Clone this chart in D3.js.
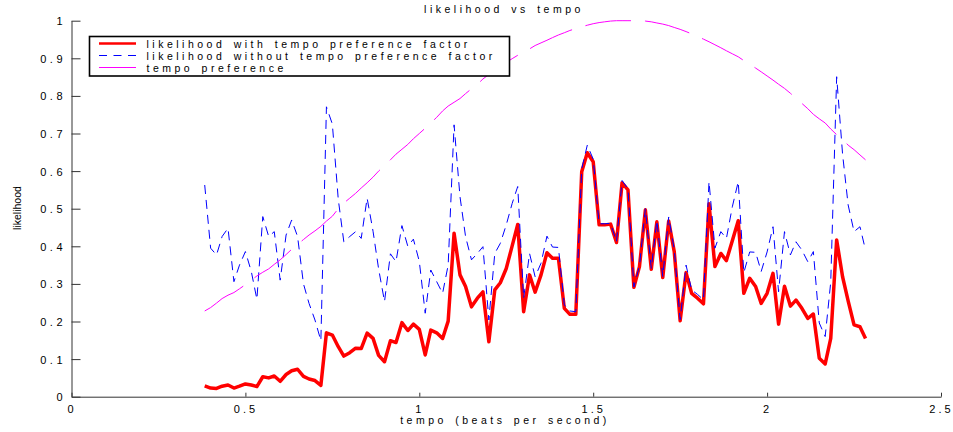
<!DOCTYPE html>
<html>
<head>
<meta charset="utf-8">
<script src="https://cdn.jsdelivr.net/npm/d3@7/dist/d3.min.js"></script>
<style>
  html, body { margin: 0; padding: 0; background: #fff; }
  svg { display: block; }
  text { font-family: "Liberation Sans", Arial, sans-serif; fill: #000; }
</style>
</head>
<body>
<svg id="chart" width="953" height="432"></svg>
<script>
// Tempo grid (beats per second), one step per BPM from 23 to 137 BPM
const tempo = [
  0.383, 0.400, 0.417, 0.433, 0.450, 0.467, 0.483, 0.500, 0.517, 0.533,
  0.550, 0.567, 0.583, 0.600, 0.617, 0.633, 0.650, 0.667, 0.683, 0.700,
  0.717, 0.733, 0.750, 0.767, 0.783, 0.800, 0.817, 0.833, 0.850, 0.867,
  0.883, 0.900, 0.917, 0.933, 0.950, 0.967, 0.983, 1.000, 1.017, 1.033,
  1.050, 1.067, 1.083, 1.100, 1.117, 1.133, 1.150, 1.167, 1.183, 1.200,
  1.217, 1.233, 1.250, 1.267, 1.283, 1.300, 1.317, 1.333, 1.350, 1.367,
  1.383, 1.400, 1.417, 1.433, 1.450, 1.467, 1.483, 1.500, 1.517, 1.533,
  1.550, 1.567, 1.583, 1.600, 1.617, 1.633, 1.650, 1.667, 1.683, 1.700,
  1.717, 1.733, 1.750, 1.767, 1.783, 1.800, 1.817, 1.833, 1.850, 1.867,
  1.883, 1.900, 1.917, 1.933, 1.950, 1.967, 1.983, 2.000, 2.017, 2.033,
  2.050, 2.067, 2.083, 2.100, 2.117, 2.133, 2.150, 2.167, 2.183, 2.200,
  2.217, 2.233, 2.250, 2.267, 2.283
];

// Likelihood including the tempo preference factor
const likelihoodWithPref = [
  0.029, 0.023, 0.022, 0.028, 0.031, 0.023, 0.028, 0.034, 0.031, 0.027,
  0.053, 0.050, 0.055, 0.041, 0.059, 0.069, 0.073, 0.054, 0.047, 0.043,
  0.030, 0.170, 0.164, 0.133, 0.108, 0.117, 0.129, 0.128, 0.169, 0.155,
  0.110, 0.093, 0.149, 0.144, 0.197, 0.176, 0.193, 0.179, 0.111, 0.177,
  0.170, 0.155, 0.201, 0.435, 0.324, 0.293, 0.239, 0.262, 0.279, 0.146,
  0.284, 0.303, 0.341, 0.401, 0.458, 0.226, 0.324, 0.278, 0.324, 0.383,
  0.368, 0.368, 0.235, 0.219, 0.219, 0.598, 0.649, 0.625, 0.457, 0.457,
  0.459, 0.410, 0.569, 0.550, 0.291, 0.346, 0.497, 0.339, 0.465, 0.317,
  0.467, 0.386, 0.202, 0.330, 0.275, 0.262, 0.247, 0.513, 0.346, 0.381,
  0.362, 0.415, 0.468, 0.275, 0.315, 0.293, 0.248, 0.275, 0.328, 0.193,
  0.294, 0.241, 0.257, 0.235, 0.208, 0.220, 0.102, 0.087, 0.155, 0.417,
  0.319, 0.255, 0.191, 0.186, 0.155
];

// Likelihood without the tempo preference factor
const likelihoodNoPref = [
  0.563, 0.395, 0.377, 0.426, 0.448, 0.306, 0.350, 0.386, 0.333, 0.259,
  0.479, 0.426, 0.439, 0.310, 0.430, 0.470, 0.426, 0.300, 0.248, 0.204,
  0.149, 0.771, 0.725, 0.525, 0.412, 0.426, 0.439, 0.421, 0.528, 0.440,
  0.340, 0.253, 0.380, 0.359, 0.455, 0.400, 0.419, 0.360, 0.222, 0.337,
  0.306, 0.275, 0.350, 0.723, 0.532, 0.426, 0.364, 0.381, 0.399, 0.204,
  0.381, 0.408, 0.457, 0.514, 0.559, 0.262, 0.381, 0.319, 0.355, 0.427,
  0.398, 0.397, 0.244, 0.228, 0.226, 0.606, 0.669, 0.632, 0.460, 0.460,
  0.461, 0.412, 0.575, 0.553, 0.292, 0.348, 0.500, 0.341, 0.469, 0.320,
  0.478, 0.392, 0.205, 0.350, 0.284, 0.272, 0.258, 0.572, 0.395, 0.439,
  0.421, 0.505, 0.572, 0.330, 0.385, 0.384, 0.333, 0.385, 0.452, 0.279,
  0.439, 0.377, 0.412, 0.390, 0.359, 0.386, 0.196, 0.160, 0.305, 0.851,
  0.645, 0.510, 0.439, 0.452, 0.390
];

// Tempo preference weight
const tempoPreference = [
  0.228, 0.237, 0.249, 0.261, 0.270, 0.277, 0.287, 0.298, 0.310, 0.321,
  0.331, 0.340, 0.352, 0.364, 0.378, 0.392, 0.405, 0.418, 0.430, 0.441,
  0.453, 0.467, 0.480, 0.500, 0.515, 0.528, 0.541, 0.555, 0.569, 0.584,
  0.600, 0.614, 0.630, 0.645, 0.658, 0.671, 0.686, 0.700, 0.714, 0.728,
  0.743, 0.760, 0.773, 0.783, 0.793, 0.806, 0.819, 0.831, 0.845, 0.857,
  0.868, 0.878, 0.889, 0.899, 0.908, 0.917, 0.925, 0.934, 0.941, 0.948,
  0.955, 0.962, 0.968, 0.974, 0.979, 0.984, 0.988, 0.992, 0.995, 0.997,
  0.999, 1.000, 1.000, 1.000, 1.000, 1.000, 0.999, 0.997, 0.994, 0.991,
  0.987, 0.982, 0.977, 0.971, 0.965, 0.958, 0.951, 0.944, 0.936, 0.928,
  0.920, 0.912, 0.904, 0.894, 0.884, 0.874, 0.864, 0.853, 0.842, 0.831,
  0.820, 0.807, 0.794, 0.780, 0.766, 0.751, 0.739, 0.728, 0.712, 0.697,
  0.685, 0.669, 0.657, 0.643, 0.630
];

const xTicks = [0, 0.5, 1, 1.5, 2, 2.5];
const xTickLabels = ["0", "0.5", "1", "1.5", "2", "2.5"];
const yTicks = [0, 0.1, 0.2, 0.3, 0.4, 0.5, 0.6, 0.7, 0.8, 0.9, 1];
const yTickLabels = ["0", "0.1", "0.2", "0.3", "0.4", "0.5", "0.6", "0.7", "0.8", "0.9", "1"];

const seriesNames = [
  "likelihood with tempo preference factor",
  "likelihood without tempo preference factor",
  "tempo preference"
];

const svg = d3.select("#chart");
const LS = 3.5;     // letter spacing of the spaced-out labels
const TICK_LS = 3;  // letter spacing of the x tick labels

const x = d3.scaleLinear().domain([0, 2.5]).range([71.5, 941]);
const y = d3.scaleLinear().domain([0, 1]).range([396.7, 20.7]);

// Axes: left and bottom only, ticks pointing into the plot
const yAxis = d3.axisLeft(y)
  .tickValues(yTicks)
  .tickFormat((d, i) => yTickLabels[i])
  .tickSizeInner(-9)
  .tickSizeOuter(0)
  .tickPadding(9 - LS);

const xAxis = d3.axisBottom(x)
  .tickValues(xTicks)
  .tickFormat((d, i) => xTickLabels[i])
  .tickSizeInner(-4)
  .tickSizeOuter(0)
  .tickPadding(9);

const gy = svg.append("g").attr("transform", `translate(${x(0)},0)`).call(yAxis);
const gx = svg.append("g").attr("transform", `translate(0,${y(0)})`).call(xAxis);

[gx, gy].forEach(g => {
  g.selectAll(".domain").attr("stroke", "#333").attr("stroke-width", 1);
  g.selectAll(".tick line").attr("stroke", "#333").attr("stroke-width", 1);
  g.selectAll(".tick text")
    .attr("font-family", "Liberation Sans, Arial, sans-serif")
    .attr("font-size", 11)
    .attr("fill", "#000");
});
gy.selectAll(".tick text").attr("dy", "0.36em").style("letter-spacing", LS + "px");
gx.selectAll(".tick text").attr("dy", "0.71em").style("letter-spacing", TICK_LS + "px");

// Data lines
const seriesValues = [likelihoodWithPref, likelihoodNoPref, tempoPreference];
const seriesStyles = [
  { color: "#ff0000", width: 3.5, dash: null },
  { color: "#0000ff", width: 1, dash: "9,6" },
  { color: "#ff00ff", width: 1, dash: "46,14" }
];

const line = d3.line()
  .x(d => x(d[0]))
  .y(d => y(d[1]));

const plot = svg.append("g");
seriesValues.forEach((vals, k) => {
  const pts = tempo.map((t, i) => [t, vals[i]]);
  const st = seriesStyles[k];
  plot.append("path")
    .datum(pts)
    .attr("fill", "none")
    .attr("stroke", st.color)
    .attr("stroke-width", st.width)
    .attr("stroke-linejoin", "round")
    .attr("stroke-dasharray", st.dash)
    .attr("d", line);
});

// Title and axis labels
svg.append("text")
  .attr("x", 504).attr("y", 12.5)
  .attr("text-anchor", "middle")
  .attr("font-size", 10.5)
  .style("letter-spacing", LS + "px")
  .style("word-spacing", "2px")
  .text("likelihood vs tempo");

svg.append("text")
  .attr("x", 505).attr("y", 424)
  .attr("text-anchor", "middle")
  .attr("font-size", 10.5)
  .style("letter-spacing", LS + "px")
  .style("word-spacing", "2px")
  .text("tempo (beats per second)");

svg.append("text")
  .attr("transform", "translate(21,208) rotate(-90)")
  .attr("text-anchor", "middle")
  .attr("font-size", 10.5)
  .text("likelihood");

// Legend
const legend = svg.append("g");
legend.append("rect")
  .attr("x", 89.5).attr("y", 36.5)
  .attr("width", 420).attr("height", 39.5)
  .attr("fill", "#fff")
  .attr("stroke", "#000")
  .attr("stroke-width", 1.6);

const legendRowY = [43.5, 55.5, 67.5];
const legendLineWidth = [2.5, 1, 1];
seriesNames.forEach((name, k) => {
  const st = seriesStyles[k];
  legend.append("line")
    .attr("x1", 99).attr("x2", 136)
    .attr("y1", legendRowY[k]).attr("y2", legendRowY[k])
    .attr("stroke", st.color)
    .attr("stroke-width", legendLineWidth[k])
    .attr("stroke-dasharray", k === 1 ? "8,6.5" : null);
  legend.append("text")
    .attr("x", 146.5).attr("y", legendRowY[k] + 4)
    .attr("font-size", 10.5)
    .style("letter-spacing", LS + "px")
    .style("word-spacing", "2px")
    .text(name);
});
</script>
</body>
</html>
